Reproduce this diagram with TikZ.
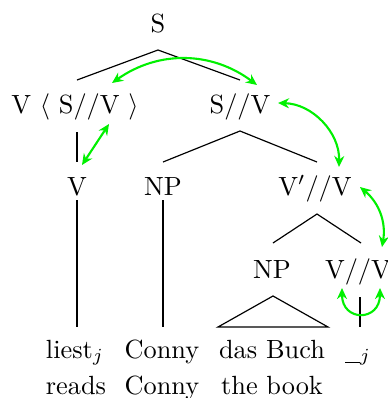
\documentclass[tikz,border=0pt]{standalone}
\usetikzlibrary{arrows.meta}
\begin{document}
\begin{tikzpicture}[x=0.38pt,y=-0.38pt,
  lbl/.style={anchor=base,inner sep=0pt},
  branch/.style={line width=0.45pt},
  mv/.style={draw={rgb,255:red,0;green,240;blue,0},line width=0.8pt,
    {Stealth[length=4.2pt,width=3.8pt]}-{Stealth[length=4.2pt,width=3.8pt]}}]
\useasboundingbox (0,0) rectangle (388,398);
% labels
\node[lbl] (S) at (158,32) {S};
\node[lbl] (VSV) at (75,113) {V $\langle$ S//V $\rangle$};
\node[lbl] (SV) at (240,113) {S//V};
\node[lbl] (V) at (77,195) {V};
\node[lbl] (NPa) at (163,195) {NP};
\node[lbl] (VpV) at (315,195) {V$'$//V};
\node[lbl] (NPb) at (272,278) {NP};
\node[lbl] (VV) at (358,278) {V//V};
\node[lbl] (liest) at (75,358) {liest$_j$};
\node[lbl] (Conny) at (162,358) {Conny};
\node[lbl] (Buch) at (272,358) {das Buch};
\node[lbl] (trace) at (358,358) {\rule[-1.8pt]{5.6pt}{0.4pt}$_j$};
\node[lbl] (reads) at (76,394) {reads};
\node[lbl] (Conny2) at (162,394) {Conny};
\node[lbl] (book) at (272,394) {the book};
% branch points
\coordinate (S-b) at (158,50);
\coordinate (VSV-t) at (77,80);
\coordinate (SV-t) at (240,80);
\coordinate (VSV-b) at (77,132);
\coordinate (V-t) at (77,162);
\coordinate (V-b) at (77,200);
\coordinate (liest-t) at (77,327);
\coordinate (SV-b) at (240,131);
\coordinate (NPa-t) at (163,162);
\coordinate (NPa-b) at (163,200);
\coordinate (Conny-t) at (163,327);
\coordinate (VpV-t) at (317,162);
\coordinate (VpV-b) at (317,214);
\coordinate (NPb-t) at (273,243);
\coordinate (VV-t) at (361,243);
\coordinate (NPb-b) at (273,296);
\coordinate (Buch-l) at (218,327);
\coordinate (Buch-r) at (328,327);
\coordinate (VV-b) at (360,297);
\coordinate (trace-t) at (360,327);
% tree
\draw[branch] (VSV-t) -- (S-b) -- (SV-t);
\draw[branch] (VSV-b) -- (V-t);
\draw[branch] (V-b) -- (liest-t);
\draw[branch] (NPa-t) -- (SV-b) -- (VpV-t);
\draw[branch] (NPa-b) -- (Conny-t);
\draw[branch] (NPb-t) -- (VpV-b) -- (VV-t);
\draw[branch] (NPb-b) -- (Buch-l) -- (Buch-r) -- cycle;
\draw[branch] (VV-b) -- (trace-t);
% movement arrows
\coordinate (m1a) at (112,83);
\coordinate (m1b) at (257,85);
\coordinate (m2a) at (109,124);
\coordinate (m2b) at (82,165);
\coordinate (m3a) at (278,103);
\coordinate (m3b) at (339,167);
\coordinate (m4a) at (360,187);
\coordinate (m4b) at (382,247);
\coordinate (m5a) at (342,288);
\coordinate (m5b) at (380,288);
\draw[mv] (m1a) to[bend left=36] (m1b);
\draw[mv] (m2a) -- (m2b);
\draw[mv] (m3a) to[bend left=45] (m3b);
\draw[mv] (m4a) to[bend left=30] (m4b);
\draw[mv] (m5a) .. controls +(0,34) and +(0,34) .. (m5b);
\end{tikzpicture}
\end{document}
